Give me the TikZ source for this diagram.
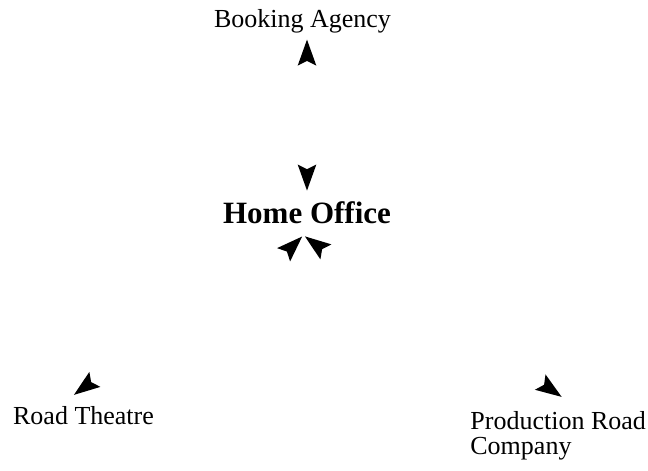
\documentclass[tikz,border=0pt]{standalone}
\usepackage{fontspec}
\setmainfont{Liberation Serif}
\usepackage{tikz}
\usetikzlibrary{arrows.meta, positioning}
\tikzstyle{place} = [inner sep=0pt, font=\fontsize{13}{12.5}\selectfont, align=left]
\tikzstyle{office} = [inner sep=0pt, font=\fontsize{15.5}{17}\selectfont\bfseries]
\tikzstyle{flow} = [draw opacity=0, -{Stealth[length=14pt, width=10pt, inset=2.5pt, black]}]

\begin{document}
\begin{tikzpicture}[x=0.5pt, y=-0.5pt]
\useasboundingbox (0,0) rectangle (648,471);
\node (ba) [place, anchor=base] at (302.5,27) {Booking Agency};
\node (ho) [office, anchor=base] at (307,223) {Home Office};
\node (rt) [place, anchor=base] at (83.5,424) {Road Theatre};
\node (prc) [place, anchor=base west] at (470,454) {Production Road\\Company};
% up and down between agency and office
\draw[flow] (ho.north) -- ([xshift=2.25pt, yshift=-2.7pt]ba.south);
\draw[flow] ([xshift=2.25pt, yshift=-2.7pt]ba.south) -- ([yshift=4.5pt]ho.north);
% office and the two road parties
\draw[flow] ([xshift=-7.5pt, yshift=-5pt]ho.south) -- ([xshift=-5.25pt, yshift=5pt]rt.north);
\draw[flow] ([xshift=-6pt, yshift=6pt]rt.north east) -- ([xshift=-2pt, yshift=-6pt]ho.south);
\draw[flow] ([xshift=10.5pt, yshift=-6pt]ho.south) -- ([xshift=2.25pt, yshift=6.5pt]prc.north);
\draw[flow] ([xshift=-16.75pt, yshift=6pt]prc.north) -- ([xshift=-1.5pt, yshift=-6pt]ho.south);
\end{tikzpicture}
\end{document}
